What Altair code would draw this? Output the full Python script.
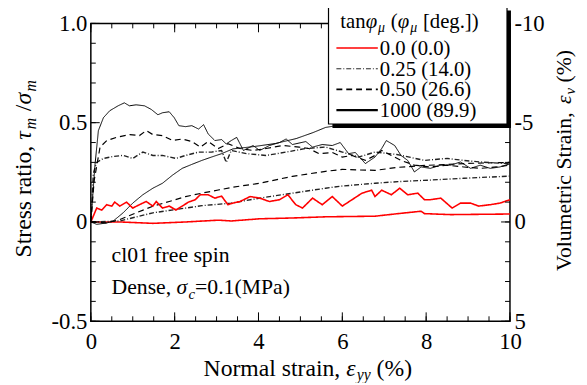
import altair as alt
import pandas as pd

# ---------------- data ----------------
series_labels = ["0.0 (0.0)", "0.25 (14.0)", "0.50 (26.6)", "1000 (89.9)"]

# stress ratio curves (left axis)
sx_000 = [0, 0.14, 0.26, 0.38, 0.5, 0.57, 0.69, 0.85, 1.0, 1.16, 1.32, 1.48, 1.56, 1.71, 1.87,
          2.03, 2.18, 2.33, 2.49, 2.61, 2.8, 2.96, 3.12, 3.27, 3.39, 3.56, 3.8, 4.03, 4.26, 4.5,
          4.7, 4.89, 5.05, 5.29, 5.52, 5.76, 6.0, 6.23, 6.47, 6.7, 6.78, 6.94, 7.17, 7.37, 7.56,
          7.8, 7.96, 8.1, 8.35, 8.62, 8.82, 9.06, 9.25, 9.53, 9.76, 10]
sy_000 = [0, 0.07, 0.06, 0.087, 0.08, 0.10, 0.08, 0.10, 0.07, 0.087, 0.103, 0.08, 0.103, 0.07, 0.08,
          0.06, 0.08, 0.10, 0.112, 0.137, 0.137, 0.12, 0.13, 0.087, 0.095, 0.103, 0.128, 0.12, 0.103, 0.112,
          0.137, 0.087, 0.07, 0.12, 0.087, 0.128, 0.08, 0.112, 0.145, 0.16, 0.128, 0.16, 0.137, 0.17, 0.137,
          0.145, 0.112, 0.112, 0.12, 0.07, 0.095, 0.095, 0.08, 0.087, 0.095, 0.112]

sx_025 = [0, 0.06, 0.14, 0.3, 0.53, 0.77, 1.0, 1.24, 1.48, 1.71, 2.03, 2.26, 2.57, 2.88, 3.12,
          3.23, 3.35, 3.72, 4.18, 4.66, 5.13, 5.6, 6.0, 6.39, 6.78, 7.3, 7.96, 8.5, 8.9, 9.29, 10]
sy_025 = [0, 0.245, 0.30, 0.32, 0.33, 0.335, 0.32, 0.352, 0.335, 0.335, 0.32, 0.335, 0.352, 0.352, 0.36,
          0.30, 0.36, 0.344, 0.335, 0.352, 0.37, 0.377, 0.352, 0.327, 0.352, 0.34, 0.31, 0.32, 0.31, 0.302, 0.293]

sx_050 = [0, 0.08, 0.22, 0.38, 0.61, 0.93, 1.16, 1.32, 1.48, 1.71, 1.95, 2.18, 2.41, 2.61, 2.8,
          3.04, 3.27, 3.56, 3.87, 4.18, 4.58, 4.97, 5.2, 5.44, 5.76, 6.0, 6.23, 6.55, 6.78, 6.94,
          7.17, 7.4, 7.72, 8.1, 8.5, 8.9, 9.29, 9.68, 10]
sy_050 = [0, 0.21, 0.377, 0.41, 0.426, 0.44, 0.435, 0.46, 0.44, 0.435, 0.41, 0.418, 0.405, 0.377, 0.405,
          0.37, 0.394, 0.37, 0.36, 0.37, 0.385, 0.377, 0.37, 0.344, 0.35, 0.327, 0.335, 0.31, 0.335, 0.36,
          0.335, 0.31, 0.286, 0.277, 0.286, 0.277, 0.27, 0.277, 0.286]

sx_1000 = [0, 0.1, 0.18, 0.3, 0.45, 0.65, 0.8, 0.92, 1.08, 1.28, 1.44, 1.6, 1.71, 1.87, 1.99,
           2.1, 2.26, 2.41, 2.57, 2.69, 2.8, 2.96, 3.12, 3.23, 3.35, 3.48, 3.64, 3.87, 4.03, 4.26,
           4.5, 4.66, 4.81, 5.13, 5.29, 5.52, 5.76, 5.95, 6.15, 6.31, 6.55, 6.78, 6.94, 7.05, 7.25,
           7.4, 7.56, 7.72, 7.88, 8.1, 8.35, 8.58, 8.82, 9.06, 9.29, 9.53, 9.76, 10]
sy_1000 = [0, 0.29, 0.46, 0.525, 0.56, 0.585, 0.60, 0.585, 0.59, 0.585, 0.567, 0.54, 0.55, 0.555, 0.525,
           0.485, 0.48, 0.485, 0.468, 0.49, 0.443, 0.41, 0.415, 0.393, 0.41, 0.426, 0.36, 0.385, 0.36, 0.385,
           0.40, 0.418, 0.39, 0.405, 0.377, 0.39, 0.385, 0.40, 0.344, 0.35, 0.294, 0.327, 0.37, 0.41, 0.385,
           0.335, 0.31, 0.252, 0.277, 0.27, 0.286, 0.286, 0.302, 0.27, 0.286, 0.27, 0.277, 0.293]

# volumetric strain curves (right axis, %)
vx_000 = [0, 0.69, 1.48, 2.26, 3.04, 3.35, 4.03, 4.81, 5.6, 6.78, 7.33, 7.88, 7.96, 8.58, 10]
vy_000 = [0, 0, 0.07, 0, -0.09, -0.05, -0.16, -0.2, -0.26, -0.29, -0.42, -0.54, -0.42, -0.37, -0.4]

vx_025 = [0, 0.69, 1.48, 2.26, 2.65, 3.35, 4.03, 4.81, 5.6, 6.0, 6.78, 7.33, 8.1, 8.9, 10]
vy_025 = [0, -0.05, -0.46, -0.7, -0.82, -0.95, -1.2, -1.45, -1.7, -1.81, -1.95, -2.03, -2.11, -2.2, -2.31]

vx_050 = [0, 0.38, 0.69, 1.08, 1.48, 1.87, 2.26, 2.65, 3.04, 3.39, 4.03, 4.81, 5.6, 6.0, 6.39,
          6.78, 7.33, 8.0, 9.0, 10]
vy_050 = [0, 0.05, -0.12, -0.46, -0.79, -1.03, -1.28, -1.45, -1.61, -1.75, -1.95, -2.3, -2.55, -2.65, -2.62,
          -2.6, -2.75, -2.85, -2.95, -3.0]

vx_1000 = [0, 0.14, 0.38, 0.53, 0.77, 1.0, 1.24, 1.48, 1.71, 1.95, 2.18, 2.41, 2.65, 2.88, 3.12,
           3.39, 3.9, 4.4, 4.9, 5.3, 5.6, 6.0, 6.5, 7.0, 8.0, 9.0, 10]
vy_1000 = [0, 0.12, 0.05, -0.04, -0.46, -0.95, -1.37, -1.7, -1.95, -2.36, -2.7, -2.9, -3.1, -3.27, -3.44,
           -3.68, -3.8, -3.95, -4.2, -4.5, -4.76, -4.9, -4.85, -4.92, -4.95, -4.9, -4.85]

x_ticks = [0, 2, 4, 6, 8, 10]
x_minor = [i * 0.5 for i in range(21)]
s_ticks = [-0.5, 0, 0.5, 1.0]
s_minor = [round(-0.5 + i * 0.1, 2) for i in range(16)]
v_ticks = [-10, -5, 0, 5]

# ---------------- styles ----------------
colors = ["#ff0000", "#222222", "#000000", "#000000"]
dashes = [[1, 0], [5, 2, 1, 2], [6, 4], [1, 0]]
widths = [1.6, 1.0, 1.8, 2.3]
FONT = "'Liberation Serif', 'Times New Roman', Times, serif"
W, H = 425, 302

stress_sets = [(sx_000, sy_000), (sx_025, sy_025), (sx_050, sy_050), (sx_1000, sy_1000)]
vol_sets = [(vx_000, vy_000), (vx_025, vy_025), (vx_050, vy_050), (vx_1000, vy_1000)]

def long_df(sets):
    rows = []
    for lab, (xs, ys) in zip(series_labels, sets):
        for i, (a, b) in enumerate(zip(xs, ys)):
            rows.append({"series": lab, "x": a, "v": b, "i": i})
    return pd.DataFrame(rows)

stress_df = long_df(stress_sets)
vol_df = long_df(vol_sets)

xscale = alt.Scale(domain=[0, 10], nice=False, zero=False)
sscale = alt.Scale(domain=[-0.5, 1.0], nice=False, zero=False)
vscale = alt.Scale(domain=[-10, 5], nice=False, zero=False, reverse=True)

xaxis = alt.Axis(orient="bottom", values=x_ticks, labelPadding=10, labelFlush=False, title=None,
                 labelFont=FONT, labelFontSize=23, labelColor="black", ticks=False, domain=False, grid=False)

color_enc = alt.Color("series:N", scale=alt.Scale(domain=series_labels, range=colors), legend=None)
dash_enc = alt.StrokeDash("series:N", scale=alt.Scale(domain=series_labels, range=dashes), legend=None)
width_enc = alt.StrokeWidth("series:N", scale=alt.Scale(domain=series_labels, range=widths), legend=None)

stress_layer = alt.Chart(stress_df).mark_line().encode(
    x=alt.X("x:Q", scale=xscale, axis=xaxis),
    y=alt.Y("v:Q", scale=sscale, axis=alt.Axis(
        orient="left", values=s_ticks, title=None, labelPadding=4, labelFlush=False,
        labelFont=FONT, labelFontSize=23, labelColor="black", ticks=False, domain=False, grid=False,
        labelExpr="datum.value == 0 ? '0' : (datum.value < 0 ? '-' + format(-datum.value, '.1f') : format(datum.value, '.1f'))")),
    color=color_enc, strokeDash=dash_enc, strokeWidth=width_enc, order="i:Q",
)

vol_layer = alt.Chart(vol_df).mark_line().encode(
    x=alt.X("x:Q", scale=xscale, axis=xaxis),
    y=alt.Y("v:Q", scale=vscale, axis=alt.Axis(
        orient="right", values=v_ticks, title=None, labelPadding=4, labelFlush=False,
        labelFont=FONT, labelFontSize=23, labelColor="black", ticks=False, domain=False, grid=False,
        labelExpr="'' + datum.value")),
    color=color_enc, strokeDash=dash_enc, strokeWidth=width_enc, order="i:Q",
)

# ---------------- inward ticks ----------------
def xtick_layer(vals, y0, y1):
    return alt.Chart(pd.DataFrame({"t": vals})).mark_rule(color="black", strokeWidth=1).encode(
        x=alt.X("t:Q", scale=xscale, axis=xaxis), y=alt.value(y0), y2=alt.value(y1))

def ytick_layer(vals, x0, x1):
    return alt.Chart(pd.DataFrame({"t": vals})).mark_rule(color="black", strokeWidth=1).encode(
        y=alt.Y("t:Q", scale=sscale, axis=None), x=alt.value(x0), x2=alt.value(x1))

ticks = [
    xtick_layer(x_minor, H, H - 5), xtick_layer(x_ticks, H, H - 9),
    xtick_layer(x_minor, 0, 5), xtick_layer(x_ticks, 0, 9),
    ytick_layer(s_minor, 0, 5), ytick_layer(s_ticks, 0, 9),
    ytick_layer(s_minor, W - 5, W), ytick_layer(s_ticks, W - 9, W),
]

# ---------------- text helpers ----------------
CW = {' ': .25, ',': .25, '.': .25, '/': .278, '(': .333, ')': .333, '%': .833, '[': .333, ']': .333,
      '=': .564, '-': .333, 'S': .556, 'V': .722, 'N': .722, 'D': .722, 'M': .889, 'P': .556,
      'a': .444, 'c': .444, 'd': .5, 'e': .444, 'f': .333, 'g': .5, 'i': .278, 'l': .278, 'm': .778,
      'n': .5, 'o': .5, 'p': .5, 'r': .333, 's': .389, 't': .278, 'u': .5, 'v': .444, 'y': .444,
      'τ': .44, 'σ': .55, 'ε': .44, 'φ': .6, 'μ': .55}

def tw(s, size):
    return sum(CW.get(ch, .5) for ch in s) * size

one = pd.DataFrame({"a": [0]})

def txt(s, x, y, size, italic=False, angle=0, align="left", baseline="alphabetic"):
    kw = dict(font=FONT, fontSize=size, align=align, baseline=baseline, color="black")
    if italic:
        kw["fontStyle"] = "italic"
    if angle:
        kw["angle"] = angle
    return alt.Chart(one).mark_text(**kw).encode(x=alt.value(x), y=alt.value(y), text=alt.value(s))

def hrun(pieces, x, y):
    out = []
    for s, size, it, dy in pieces:
        core = s.lstrip(" ")
        x += (len(s) - len(core)) * 0.25 * size
        out.append(txt(core.rstrip(" "), x, y + dy, size, it))
        x += tw(core, size)
    return out

def vrun(pieces, x, y):
    out = []
    for s, size, it, dx in pieces:
        core = s.lstrip(" ")
        y -= (len(s) - len(core)) * 0.25 * size
        out.append(txt(core.rstrip(" "), x + dx, y, size, it, angle=270))
        y -= tw(core, size)
    return out

texts = []
# x title
xt = [("Normal strain, ", 24, False, 0), ("ε", 24, True, 0), ("yy", 16, True, 4), (" (%)", 24, False, 0)]
xtw = sum(tw(p[0], p[1]) for p in xt)
texts += hrun(xt, 220 - xtw / 2, 358)
# left title
lt = [("Stress ratio, ", 24, False, 0), ("τ", 24, True, 0), ("m", 16, True, 5), (" /", 24, False, 0),
      ("σ", 24, True, 0), ("m", 16, True, 5)]
ltw = sum(tw(p[0], p[1]) for p in lt)
texts += vrun(lt, -61, 147 + ltw / 2)
# right title
rt = [("Volumetric Strain, ", 22, False, 0), ("ε", 22, True, 0), ("v", 15, True, 4), (" (%)", 22, False, 0)]
rtw = sum(tw(p[0], p[1]) for p in rt)
texts += vrun(rt, 487, 139 + rtw / 2)
# annotations
texts.append(txt("cl01 free spin", 21, 242, 22))
texts += hrun([("Dense, ", 22, False, 0), ("σ", 22, True, 0), ("c", 15, True, 5), ("=0.1(MPa)", 22, False, 0)], 21, 274)

# ---------------- legend (boxed, with shadow) ----------------
LX0, LX1, LY0, LY1 = 241, 422, -17, 102
legend = [
    alt.Chart(one).mark_rect(color="black").encode(
        x=alt.value(LX0 + 4), x2=alt.value(LX1 + 4), y=alt.value(LY0 + 4), y2=alt.value(LY1 + 4)),
    alt.Chart(one).mark_rect(fill="white", stroke="black", strokeWidth=1.2).encode(
        x=alt.value(LX0), x2=alt.value(LX1), y=alt.value(LY0), y2=alt.value(LY1)),
]
legend += hrun([("tan", 21, False, 0), ("φ", 21, True, 0), ("μ", 14, True, 4), (" (", 21, False, 0),
                ("φ", 21, True, 0), ("μ", 14, True, 4), (" [deg.])", 21, False, 0)], 253, 5)
row_y = [25, 46, 67, 88]
for lab, c, d, w, ry in zip(series_labels, colors, dashes, widths, row_y):
    legend.append(alt.Chart(one).mark_rule().encode(
        x=alt.value(249), x2=alt.value(291), y=alt.value(ry), y2=alt.value(ry),
        stroke=alt.value(c), strokeDash=alt.value(d), strokeWidth=alt.value(w)))
    legend.append(txt(lab, 293, ry + 7, 21))

chart = alt.layer(vol_layer, stress_layer, *ticks, *texts, *legend).resolve_scale(
    y="independent"
).properties(
    width=W, height=H,
    autosize=alt.AutoSizeParams(type="none"),
    padding={"left": 84, "top": 13, "right": 70, "bottom": 60},
).configure_view(stroke="black", strokeWidth=1.5)

chart.save("out.html", embed_options={"renderer": "svg", "actions": False})
